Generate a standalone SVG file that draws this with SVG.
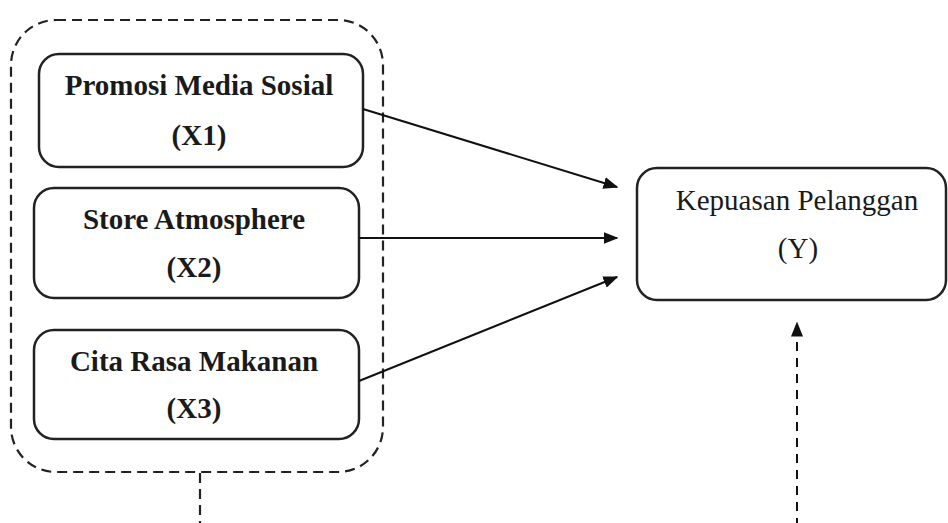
<svg xmlns="http://www.w3.org/2000/svg" width="948" height="523" viewBox="0 0 948 523">
<style>
.box{fill:#fff;stroke:#222;stroke-width:2.5}
.t{font-family:"Liberation Serif","Times New Roman",serif;font-size:29px;fill:#1a1a1a;text-anchor:middle}
.b{font-weight:bold}
.c{stroke:#111;stroke-width:2;fill:none}
.d{stroke:#222;stroke-width:2.2;fill:none;stroke-dasharray:10 6}
</style>
<defs>
<marker id="ah2" viewBox="0 0 10 10" refX="9" refY="5" markerWidth="15" markerHeight="12" markerUnits="userSpaceOnUse" orient="auto" preserveAspectRatio="none">
<path d="M0,0 L10,5 L0,10 z" fill="#111"/>
</marker>
</defs>
<rect x="0" y="0" width="948" height="523" fill="#fff"/>
<g id="group-x">
<rect class="d" x="11" y="20" width="372" height="452" rx="45" ry="45"/>
</g>
<g id="x1">
<rect class="box" x="39" y="54" width="324" height="113" rx="20" ry="20"/>
<text class="t b" x="199" y="95">Promosi Media Sosial</text>
<text class="t b" x="199" y="145">(X1)</text>
</g>
<g id="x2">
<rect class="box" x="34" y="188" width="325" height="110" rx="20" ry="20"/>
<text class="t b" x="194" y="229">Store Atmosphere</text>
<text class="t b" x="194" y="277">(X2)</text>
</g>
<g id="x3">
<rect class="box" x="34" y="330" width="325" height="109" rx="20" ry="20"/>
<text class="t b" x="194" y="371">Cita Rasa Makanan</text>
<text class="t b" x="194" y="418">(X3)</text>
</g>
<g id="y">
<rect class="box" x="637" y="168" width="309" height="132" rx="20" ry="20"/>
<text class="t" x="797" y="210">Kepuasan Pelanggan</text>
<text class="t" x="798" y="258">(Y)</text>
</g>
<g id="connectors">
<line class="c" x1="363" y1="109" x2="617" y2="187" marker-end="url(#ah2)"/>
<line class="c" x1="359" y1="238" x2="617" y2="238" marker-end="url(#ah2)"/>
<line class="c" x1="359" y1="381" x2="617" y2="277" marker-end="url(#ah2)"/>
<line class="d" x1="200" y1="473" x2="200" y2="523"/>
<line class="c" x1="797" y1="523" x2="797" y2="323" stroke-dasharray="9 7" stroke-dashoffset="4" marker-end="url(#ah2)"/>
</g>
</svg>
